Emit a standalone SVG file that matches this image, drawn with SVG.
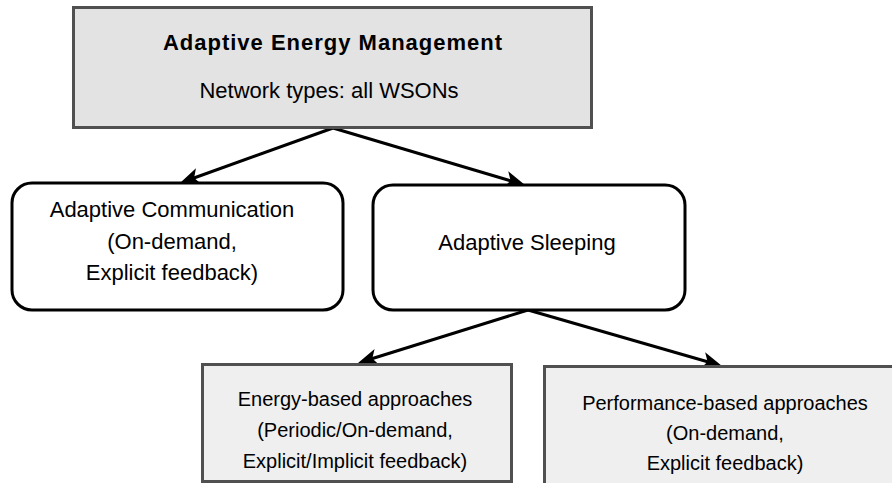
<svg xmlns="http://www.w3.org/2000/svg" width="892" height="483" viewBox="0 0 892 483">
<style>
text{font-family:"Liberation Sans",Arial,sans-serif;fill:#000;text-anchor:middle}
.t22{font-size:22px}
.t20{font-size:20px}
.title{font-size:22px;font-weight:bold;letter-spacing:1px}
.gray{stroke:#505050;stroke-width:3}
.round{fill:#fff;stroke:#000;stroke-width:3}
.conn{fill:none;stroke:#000;stroke-width:3}
</style>
<defs>
<path id="ah" d="M0,0 L-20,-8.5 L-15,0 L-20,8.5 Z" fill="#000"/>
</defs>
<rect width="892" height="483" fill="#fff"/>
<g id="connectors">
<path class="conn" d="M333,128 L185.6,181"/>
<path class="conn" d="M333,128 L519.2,183.3"/>
<path class="conn" d="M528,310 L363.7,361.2"/>
<path class="conn" d="M528,310 L716.2,364.3"/>
<use href="#ah" transform="translate(180,183) rotate(160.23)"/>
<use href="#ah" transform="translate(525,185) rotate(16.53)"/>
<use href="#ah" transform="translate(358,363) rotate(162.68)"/>
<use href="#ah" transform="translate(722,366) rotate(16.10)"/>
</g>
<g id="node-aem">
<rect class="gray" x="73.5" y="7.5" width="518" height="120" fill="#e3e3e3"/>
<text class="title" x="333" y="50">Adaptive Energy Management</text>
<text class="t22" x="329" y="98">Network types: all WSONs</text>
</g>
<g id="node-comm">
<rect class="round" x="12" y="183" width="331" height="127" rx="20" ry="20"/>
<text class="t22" x="172" y="217">Adaptive Communication</text>
<text class="t22" x="172" y="248.5">(On-demand,</text>
<text class="t22" x="172" y="280">Explicit feedback)</text>
</g>
<g id="node-sleep">
<rect class="round" x="373" y="185" width="312" height="125" rx="20" ry="20"/>
<text class="t22" x="527" y="250">Adaptive Sleeping</text>
</g>
<g id="node-energy">
<rect class="gray" x="202.5" y="364.5" width="309" height="117" fill="#efefef"/>
<text class="t20" x="355" y="406">Energy-based approaches</text>
<text class="t20" x="355" y="437">(Periodic/On-demand,</text>
<text class="t20" x="355" y="468">Explicit/Implicit feedback)</text>
</g>
<g id="node-perf">
<rect class="gray" x="544.5" y="366.5" width="360" height="130" fill="#efefef"/>
<text class="t20" x="725" y="410">Performance-based approaches</text>
<text class="t20" x="725" y="440">(On-demand,</text>
<text class="t20" x="725" y="470">Explicit feedback)</text>
</g>
</svg>
